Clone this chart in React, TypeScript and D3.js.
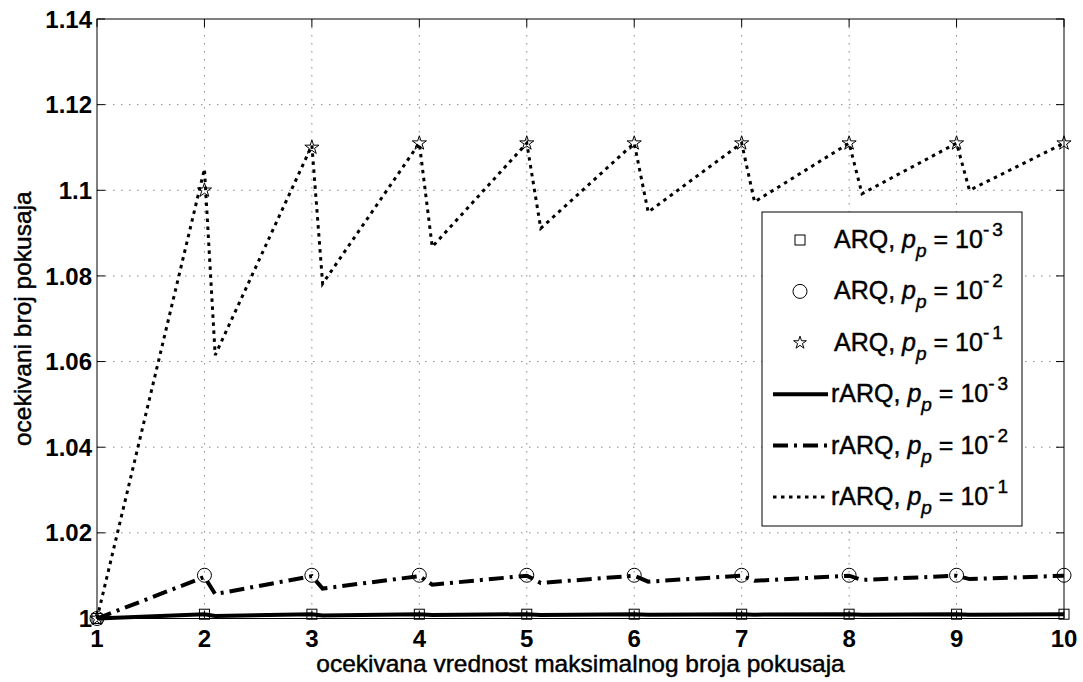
import React from "react";
import * as d3 from "d3";

// ---------- data ----------
const maxTries = [1, 2, 3, 4, 5, 6, 7, 8, 9, 10];
const arq1e3 = [1, 1.001, 1.001, 1.001, 1.001, 1.001, 1.001, 1.001, 1.001, 1.001];
const arq1e2 = [1, 1.0101, 1.0101, 1.0101, 1.0101, 1.0101, 1.0101, 1.0101, 1.0101, 1.0101];
const arq1e1 = [1, 1.1, 1.11, 1.111, 1.111, 1.111, 1.111, 1.111, 1.111, 1.111];

const rarqX = [1, 2, 2.1, 3, 3.1, 4, 4.12, 5, 5.13, 6, 6.13, 7, 7.12, 8, 8.12, 9, 9.12, 10];
const rarq1e3 = [1, 1.001, 1.0006, 1.001, 1.0007, 1.001, 1.0008, 1.001, 1.0008, 1.001, 1.0009, 1.001, 1.0009, 1.001, 1.0009, 1.001, 1.0009, 1.001];
const rarq1e2 = [1, 1.0097, 1.0057, 1.0099, 1.007, 1.0099, 1.0079, 1.01, 1.0083, 1.01, 1.0086, 1.01, 1.0088, 1.01, 1.009, 1.01, 1.0092, 1.01];
const rarq1e1 = [1, 1.105, 1.0615, 1.1105, 1.0782, 1.111, 1.0868, 1.111, 1.0911, 1.111, 1.0949, 1.111, 1.0973, 1.111, 1.0992, 1.111, 1.1, 1.111];

const xTicks = [1, 2, 3, 4, 5, 6, 7, 8, 9, 10];
const yTicks = [1, 1.02, 1.04, 1.06, 1.08, 1.1, 1.12, 1.14];
const yTickLabels = ["1", "1.02", "1.04", "1.06", "1.08", "1.1", "1.12", "1.14"];

const xTitle = "ocekivana vrednost maksimalnog broja pokusaja";
const yTitle = "ocekivani broj pokusaja";

const legendItems = [
  { name: "ARQ", exp: "3", kind: "square" },
  { name: "ARQ", exp: "2", kind: "circle" },
  { name: "ARQ", exp: "1", kind: "star" },
  { name: "rARQ", exp: "3", kind: "solid" },
  { name: "rARQ", exp: "2", kind: "dashdot" },
  { name: "rARQ", exp: "1", kind: "dotted" },
];

// ---------- layout ----------
const W = 1083;
const H = 682;
const L = 97;
const R = 1064;
const T = 19;
const B = 618.5;
const FONT = "'Liberation Sans', Arial, Helvetica, sans-serif";

const lineStyles: Record<string, { w: number; dash?: string }> = {
  solid: { w: 4 },
  dashdot: { w: 4, dash: "15 6 3 6" },
  dotted: { w: 3, dash: "3.5 4.5" },
};

export default function App() {
  const x = d3.scaleLinear().domain([1, 10]).range([L, R]);
  const y = d3.scaleLinear().domain([1, 1.14]).range([B, T]);

  const line = d3
    .line<[number, number]>()
    .x((d) => x(d[0]))
    .y((d) => y(d[1]));

  const star = d3.symbol().type(d3.symbolStar).size(62)() as string;
  const starSmall = d3.symbol().type(d3.symbolStar).size(50)() as string;

  const series = [
    { vals: rarq1e3, kind: "solid" },
    { vals: rarq1e2, kind: "dashdot" },
    { vals: rarq1e1, kind: "dotted" },
  ];

  const marker = (kind: string, cx: number, cy: number, key: string, small = false) => {
    if (kind === "square")
      return <rect key={key} x={cx - 5} y={cy - 5} width={10} height={10} fill="none" stroke="#000" strokeWidth={1} />;
    if (kind === "circle")
      return <circle key={key} cx={cx} cy={cy} r={7} fill="none" stroke="#000" strokeWidth={1} />;
    return (
      <path key={key} d={small ? starSmall : star} transform={`translate(${cx},${cy})`} fill="none" stroke="#000" strokeWidth={1} />
    );
  };

  const legX = 762;
  const legY = 212;
  const legW = 260;
  const legH = 314;
  const rowH = 51.4;
  const heavy = { stroke: "#000", strokeWidth: 0.45 };

  return (
    <svg width={W} height={H} style={{ position: "absolute", left: 0, top: 0, background: "#fff" }} fontFamily={FONT}>
      <rect x={0} y={0} width={W} height={H} fill="#fff" />
      {/* grid */}
      {xTicks.slice(1, -1).map((t) => (
        <line key={"gx" + t} x1={x(t)} x2={x(t)} y1={T} y2={B} stroke="#888" strokeWidth={1} strokeDasharray="1.5 6.5" />
      ))}
      {yTicks.slice(1, -1).map((t) => (
        <line key={"gy" + t} x1={L} x2={R} y1={y(t)} y2={y(t)} stroke="#888" strokeWidth={1} strokeDasharray="1.5 6.5" />
      ))}
      {/* ticks */}
      {xTicks.map((t) => (
        <g key={"tx" + t}>
          <line x1={x(t)} x2={x(t)} y1={B} y2={B - 8} stroke="#000" />
          <line x1={x(t)} x2={x(t)} y1={T} y2={T + 8} stroke="#000" />
          <text x={x(t)} y={647} textAnchor="middle" fontSize={24} fontWeight="bold">
            {t}
          </text>
        </g>
      ))}
      {yTicks.map((t, i) => (
        <g key={"ty" + t}>
          <line x1={L} x2={L + 8} y1={y(t)} y2={y(t)} stroke="#000" />
          <line x1={R} x2={R - 8} y1={y(t)} y2={y(t)} stroke="#000" />
          <text x={L - 5} y={y(t)} dy="0.36em" textAnchor="end" fontSize={24} fontWeight="bold">
            {yTickLabels[i]}
          </text>
        </g>
      ))}
      {/* ARQ markers */}
      {maxTries.map((m, i) => marker("square", x(m), y(arq1e3[i]), "sq" + i))}
      {maxTries.map((m, i) => marker("circle", x(m), y(arq1e2[i]), "ci" + i))}
      {maxTries.map((m, i) => marker("star", x(m), y(arq1e1[i]), "st" + i))}
      {/* rARQ lines */}
      {series.map((s) => (
        <path
          key={s.kind}
          d={line(rarqX.map((v, i) => [v, s.vals[i]] as [number, number])) as string}
          fill="none"
          stroke="#000"
          strokeWidth={lineStyles[s.kind].w}
          strokeDasharray={lineStyles[s.kind].dash}
        />
      ))}
      {/* axes box */}
      <rect x={L} y={T} width={R - L} height={B - T} fill="none" stroke="#000" strokeWidth={1} />
      {/* titles */}
      <text x={(L + R) / 2} y={672} textAnchor="middle" fontSize={24.5} {...heavy}>
        {xTitle}
      </text>
      <text transform={`translate(31,${(T + B) / 2}) rotate(-90)`} textAnchor="middle" fontSize={24.5} {...heavy}>
        {yTitle}
      </text>
      {/* legend */}
      <rect x={legX} y={legY} width={legW} height={legH} fill="#fff" stroke="#000" strokeWidth={1} />
      {legendItems.map((it, i) => {
        const cy = legY + 28 + i * rowH;
        const sample =
          it.kind === "square" || it.kind === "circle" || it.kind === "star" ? (
            marker(it.kind, 800, cy, "lm" + i, true)
          ) : (
            <line
              x1={773}
              x2={828}
              y1={cy}
              y2={cy}
              stroke="#000"
              strokeWidth={lineStyles[it.kind].w}
              strokeDasharray={lineStyles[it.kind].dash}
            />
          );
        return (
          <g key={"lg" + i}>
            {sample}
            <text x={it.name === "ARQ" ? 834 : 831} y={cy + 8} fontSize={25} {...heavy}>
              {it.name + ", "}
              <tspan fontStyle="italic">p</tspan>
              <tspan fontStyle="italic" fontSize={19} dy={9}>
                p
              </tspan>
              <tspan dy={-9}>{" = 10"}</tspan>
              <tspan fontSize={19} dy={-12}>
                -
              </tspan>
              <tspan fontSize={19} dx={3}>
                {it.exp}
              </tspan>
            </text>
          </g>
        );
      })}
    </svg>
  );
}
